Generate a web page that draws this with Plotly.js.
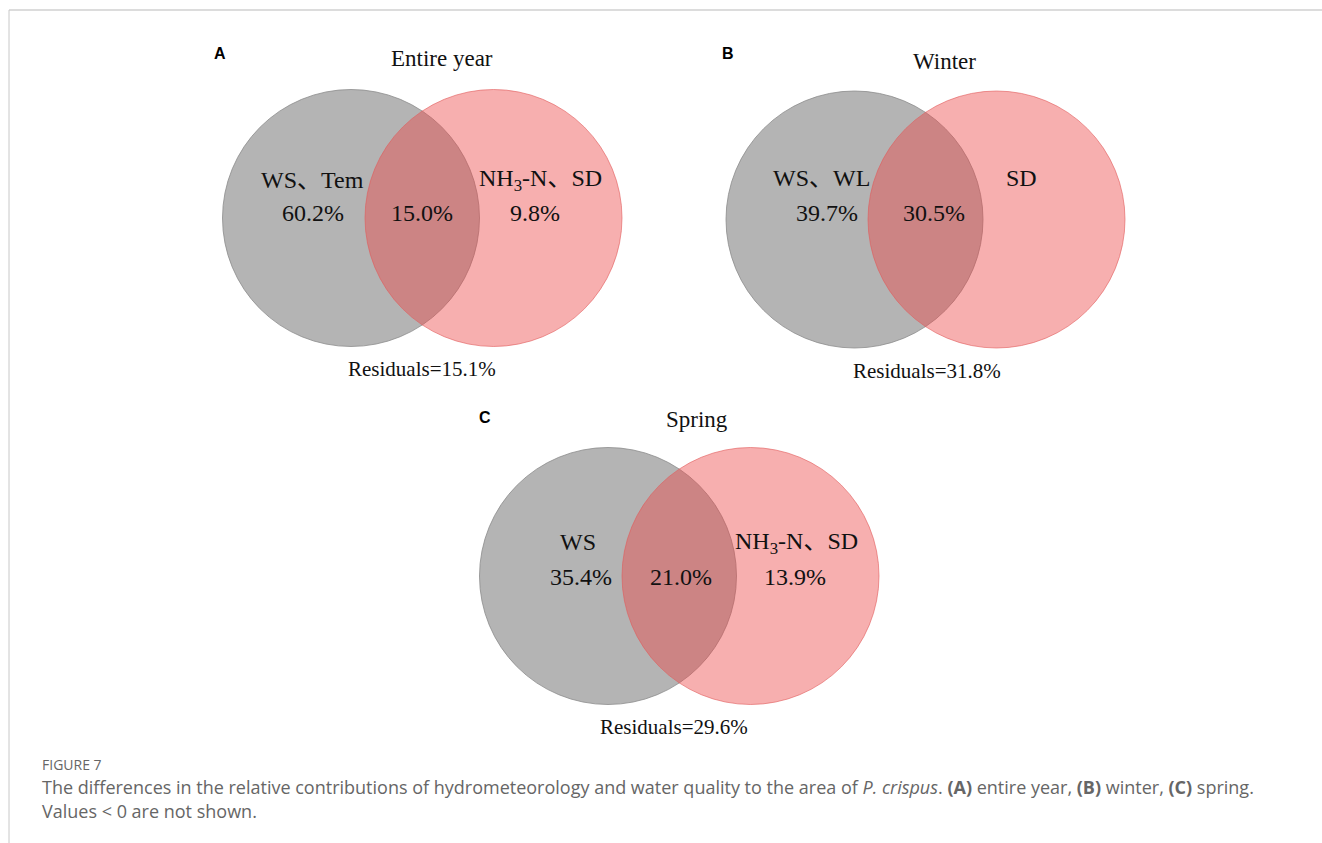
<!DOCTYPE html>
<html>
<head>
<meta charset="utf-8">
<script src="https://cdn.plot.ly/plotly-3.0.1.min.js"></script>
<style>
html,body{margin:0;padding:0;background:#fff;}
#chart{width:1322px;height:843px;}
</style>
</head>
<body>
<div id="chart"></div>
<script>
// ---- data ----
const panelLetters = ["A", "B", "C"];
const panelTitles = ["Entire year", "Winter", "Spring"];
const leftLabels = ["WS、Tem", "WS、WL", "WS"];
const rightLabels = ["NH<sub>3</sub>-N、SD", "SD", "NH<sub>3</sub>-N、SD"];
const leftValues = [60.2, 39.7, 35.4];
const sharedValues = [15.0, 30.5, 21.0];
const rightValues = [9.8, null, 13.9];
const residuals = [15.1, 31.8, 29.6];

// ---- layout (page pixel coordinates) ----
const R = 128.5;
const panels = [
  {gx: 351, rx: 493.5, cy: 218, letter: [220, 53], title: [442, 58], ll: [312, 180], lv: [313, 213], sv: [422, 213], rl: [540, 180], rv: [535, 213], res: [422, 369]},
  {gx: 854.5, rx: 996.5, cy: 219.5, letter: [728, 53], title: [944, 61], ll: [821, 178], lv: [827, 213], sv: [934, 213], rl: [1021, 178], rv: [1021, 213], res: [927, 371]},
  {gx: 608, rx: 750.5, cy: 576, letter: [485, 417], title: [697, 419], ll: [578, 542], lv: [581, 577], sv: [681, 577], rl: [796, 543], rv: [795, 577], res: [674, 727]}
];

const serif = "Liberation Serif, Times New Roman, Noto Sans CJK SC, serif";
const shapes = [];
const annotations = [];

function txt(x, y, text, size, extra) {
  return Object.assign({
    x: x, y: y, xref: "x", yref: "y", text: text, showarrow: false,
    xanchor: "center", yanchor: "middle",
    font: {family: serif, size: size, color: "#111"}
  }, extra || {});
}

panels.forEach((p, i) => {
  shapes.push({type: "circle", xref: "x", yref: "y", layer: "below",
    x0: p.gx - R, x1: p.gx + R, y0: p.cy - R, y1: p.cy + R,
    fillcolor: "rgb(180,180,180)", line: {color: "rgba(140,140,140,0.8)", width: 1}});
  shapes.push({type: "circle", xref: "x", yref: "y", layer: "below",
    x0: p.rx - R, x1: p.rx + R, y0: p.cy - R, y1: p.cy + R,
    fillcolor: "rgba(236,70,70,0.43)", line: {color: "rgba(225,90,90,0.6)", width: 1}});

  annotations.push(txt(p.letter[0], p.letter[1], "<b>" + panelLetters[i] + "</b>", 16,
    {font: {family: "Liberation Sans, Arial, sans-serif", size: 16, color: "#000"}}));
  annotations.push(txt(p.title[0], p.title[1], panelTitles[i], 23));
  annotations.push(txt(p.ll[0], p.ll[1], leftLabels[i], 24));
  annotations.push(txt(p.lv[0], p.lv[1], leftValues[i].toFixed(1) + "%", 24));
  annotations.push(txt(p.sv[0], p.sv[1], sharedValues[i].toFixed(1) + "%", 24));
  annotations.push(txt(p.rl[0], p.rl[1], rightLabels[i], 24));
  if (rightValues[i] !== null) {
    annotations.push(txt(p.rv[0], p.rv[1], rightValues[i].toFixed(1) + "%", 24));
  }
  annotations.push(txt(p.res[0], p.res[1], "Residuals=" + residuals[i].toFixed(1) + "%", 21));
});

// page border
shapes.push({type: "line", xref: "x", yref: "y", x0: 9, x1: 1322, y0: 10, y1: 10, line: {color: "#dcdcdc", width: 2}});
shapes.push({type: "line", xref: "x", yref: "y", x0: 9, x1: 9, y0: 10, y1: 843, line: {color: "#c8c8c8", width: 1}});

// caption
const capFont = "Open Sans, Noto Sans, sans-serif";
annotations.push({x: 40, y: 764, xref: "x", yref: "y", xanchor: "left", yanchor: "middle", showarrow: false,
  text: "FIGURE 7", font: {family: capFont, size: 14, color: "#666"}});
annotations.push({x: 40, y: 787, xref: "x", yref: "y", xanchor: "left", yanchor: "middle", showarrow: false,
  text: "The differences in the relative contributions of hydrometeorology and water quality to the area of <i>P. crispus</i>. <b>(A)</b> entire year, <b>(B)</b> winter, <b>(C)</b> spring.",
  font: {family: capFont, size: 18, color: "#666"}});
annotations.push({x: 40, y: 811, xref: "x", yref: "y", xanchor: "left", yanchor: "middle", showarrow: false,
  text: "Values &lt; 0 are not shown.", font: {family: capFont, size: 18, color: "#666"}});

const layout = {
  width: 1322, height: 843,
  margin: {l: 0, r: 0, t: 0, b: 0},
  paper_bgcolor: "#fff", plot_bgcolor: "#fff",
  xaxis: {range: [0, 1322], visible: false, fixedrange: true},
  yaxis: {range: [843, 0], visible: false, fixedrange: true},
  showlegend: false,
  shapes: shapes,
  annotations: annotations
};

Plotly.newPlot("chart", [{x: [], y: [], type: "scatter", mode: "markers"}], layout, {displayModeBar: false, staticPlot: true});
</script>
</body>
</html>
